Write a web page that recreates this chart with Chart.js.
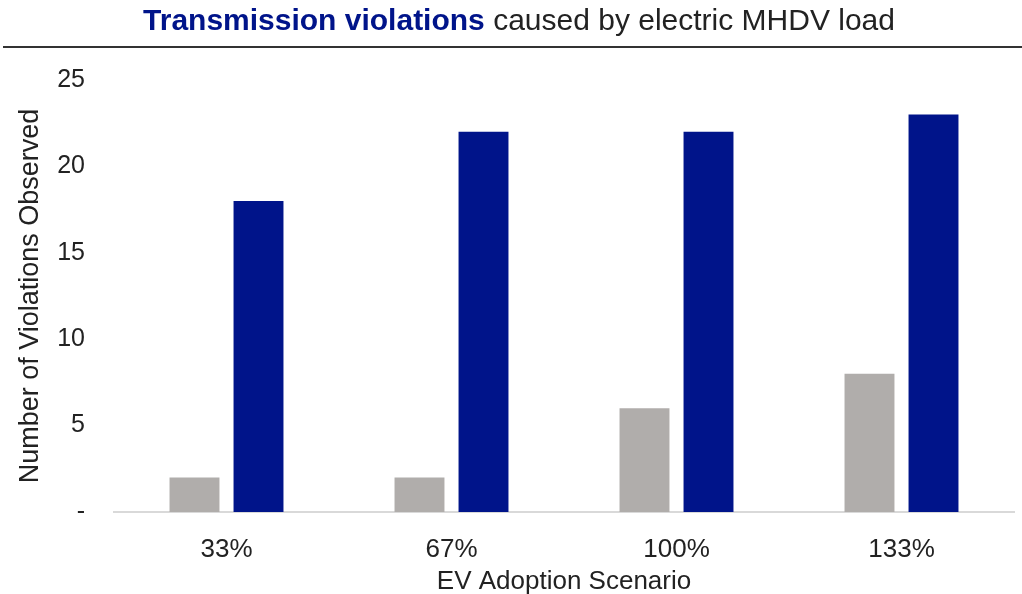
<!DOCTYPE html>
<html>
<head>
<meta charset="utf-8">
<script src="https://cdn.jsdelivr.net/npm/chart.js@4"></script>
<style>
	body { margin: 0; background: #fff; }
	#wrap { position: relative; width: 1022px; height: 594px; }
	#title {
		position: absolute; left: 0; top: 3px; width: 1022px; text-align: center;
		font-family: "Liberation Sans", Arial, sans-serif; font-size: 30px; color: #222;
		padding-left: 16px; box-sizing: border-box;
	}
	#title b { color: #00148a; }
	#rule { position: absolute; left: 3px; right: 0; top: 46px; height: 2px; background: #333; }
</style>
</head>
<body>
<div id="wrap">
	<div id="title"><b>Transmission violations</b> caused by electric MHDV load</div>
	<div id="rule"></div>
	<canvas id="myChart" width="1022" height="594"></canvas>
</div>
<script>
// data
const scenarios = ["33%", "67%", "100%", "133%"];
const baseValues = [2, 2, 6, 8];
const mhdvValues = [18, 22, 22, 23];
const yTicks = [0, 5, 10, 15, 20, 25];

const ctx = document.getElementById('myChart');

new Chart(ctx, {
	type: 'bar',
	data: {
		labels: scenarios,
		datasets: [{
			label: 'baseline',
			data: baseValues,
			backgroundColor: '#b0adab',
			barPercentage: 0.78,
			categoryPercentage: 0.569
		},
		{
			label: 'electric MHDV',
			data: mhdvValues,
			backgroundColor: '#00148a',
			barPercentage: 0.78,
			categoryPercentage: 0.569
		}]
	},
	options: {
		responsive: false,
		animation: false,
		layout: { padding: { top: 80, right: 8, left: 0, bottom: 0 } },
		plugins: {
			legend: { display: false },
			tooltip: { enabled: false }
		},
		scales: {
			x: {
				grid: { display: false },
				border: { display: true, color: '#d9d9d9', width: 2 },
				ticks: {
					color: '#222',
					padding: 14,
					font: { family: 'Liberation Sans', size: 26 }
				},
				title: {
					display: true,
					text: 'EV Adoption Scenario',
					color: '#222',
					padding: { top: 2, bottom: -3 },
					font: { family: 'Liberation Sans', size: 26 }
				},
				afterFit: function(scale) { scale.height = 82; }
			},
			y: {
				min: 0,
				max: 25,
				grid: { display: false, drawTicks: false },
				border: { display: false },
				afterBuildTicks: function(scale) {
					scale.ticks = yTicks.map(v => ({ value: v }));
				},
				ticks: {
					color: '#222',
					padding: 29,
					font: { family: 'Liberation Sans', size: 25 },
					callback: function(v) { return v === 0 ? '-' : v; }
				},
				title: {
					display: true,
					text: 'Number of Violations Observed',
					color: '#222',
					padding: { top: 14, bottom: 0 },
					font: { family: 'Liberation Sans', size: 27 }
				},
				afterFit: function(scale) { scale.width = 114; }
			}
		}
	}
});
</script>
</body>
</html>
